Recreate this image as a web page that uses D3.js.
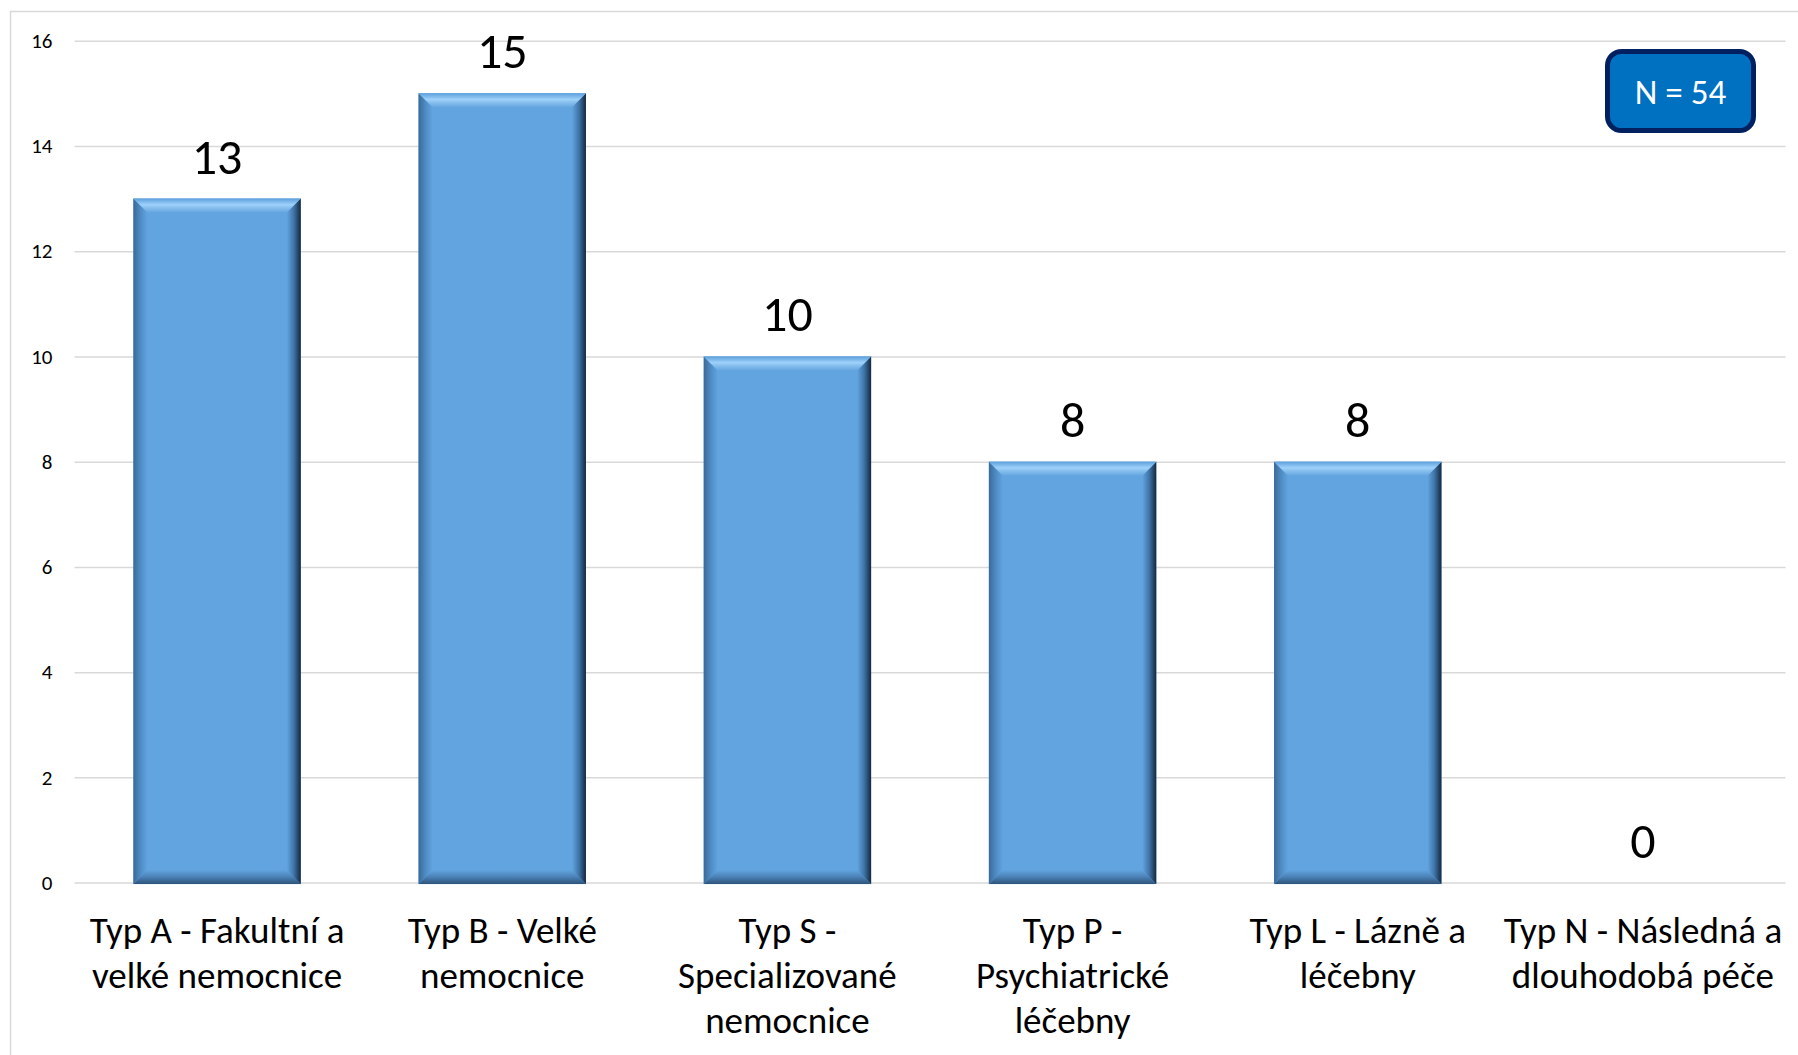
<!DOCTYPE html>
<html><head><meta charset="utf-8">
<script src="https://cdn.jsdelivr.net/npm/d3@7"></script>
<style>
html,body{margin:0;padding:0;background:#fff;}
svg{display:block;}
text{font-family:Carlito, Lato, "Open Sans", sans-serif;}
</style></head>
<body>
<svg id="chart" width="1798" height="1055"></svg>
<script>
const categories = ["Typ A", "Typ B", "Typ S", "Typ P", "Typ L", "Typ N"];
const categoryLabels = [
  ["Typ A - Fakultní a", "velké nemocnice"],
  ["Typ B - Velké", "nemocnice"],
  ["Typ S -", "Specializované", "nemocnice"],
  ["Typ P -", "Psychiatrické", "léčebny"],
  ["Typ L - Lázně a", "léčebny"],
  ["Typ N - Následná a", "dlouhodobá péče"]
];
const values = [13, 15, 10, 8, 8, 0];
const yTicks = [0, 2, 4, 6, 8, 10, 12, 14, 16];
const noteText = "N = 54";

const svg = d3.select("#chart");
const W = 1798, H = 1055;
const plot = {left: 74.5, right: 1785.5, top: 40.7, bottom: 882.6};

// outer frame
svg.append("rect").attr("x", 10.5).attr("y", 11.5).attr("width", W).attr("height", H)
  .attr("fill", "none").attr("stroke", "#d9d9d9").attr("stroke-width", 1.5);

const x = d3.scaleBand().domain(categories).range([plot.left, plot.right])
  .paddingInner(0.413).paddingOuter(0.2065);
const y = d3.scaleLinear().domain([0, 16]).range([plot.bottom, plot.top]);

// gridlines + y labels via axis
const yAxis = d3.axisLeft(y).tickValues(yTicks).tickSize(-(plot.right - plot.left)).tickPadding(22)
  .tickFormat(d3.format("d"));
const gy = svg.append("g").attr("transform", `translate(${plot.left},0)`).call(yAxis);
gy.select(".domain").remove();
gy.selectAll(".tick line").attr("stroke", "#d9d9d9").attr("stroke-width", 1.5);
gy.selectAll(".tick text").attr("fill", "#000").style("font-size", "21px")
  .style("font-family", "Carlito, Lato, sans-serif");

// gradients
const defs = svg.append("defs");
function lg(id, x1, y1, x2, y2, stops) {
  const g = defs.append("linearGradient").attr("id", id)
    .attr("x1", x1).attr("y1", y1).attr("x2", x2).attr("y2", y2);
  stops.forEach(s => g.append("stop").attr("offset", s[0]).attr("stop-color", s[1]));
}
lg("gTop", 0, 0, 0, 1, [[0, "#5d9fdc"], [0.45, "#9fd2fb"], [0.6, "#8cc3f0"], [1, "#65a6e0"]]);
lg("gRight", 0, 0, 1, 0, [[0, "#62a4df"], [0.5, "#3f74a8"], [1, "#15283e"]]);
lg("gLeft", 0, 0, 1, 0, [[0, "#3a6a98"], [0.5, "#4f8bc4"], [1, "#62a4df"]]);
lg("gBottom", 0, 0, 0, 1, [[0, "#62a4df"], [0.5, "#4a80b5"], [1, "#2d5378"]]);

const bev = 14;
const bars = svg.append("g").selectAll("g").data(values.map((v, i) => ({v, c: categories[i]})))
  .join("g").filter(d => d.v > 0);
bars.each(function(d) {
  const g = d3.select(this);
  const x0 = x(d.c), x1 = x(d.c) + x.bandwidth(), y0 = y(d.v), y1 = y(0) + 1.5;
  const b = bev;
  g.append("rect").attr("x", x0).attr("y", y0).attr("width", x1 - x0).attr("height", y1 - y0)
    .attr("fill", "#62a4df");
  const poly = (pts, fill) => g.append("polygon").attr("points", pts.map(p => p.join(",")).join(" ")).attr("fill", fill);
  poly([[x0, y1], [x1, y1], [x1 - b, y1 - b], [x0 + b, y1 - b]], "url(#gBottom)");
  poly([[x0, y0], [x0 + b, y0 + b], [x0 + b, y1 - b], [x0, y1]], "url(#gLeft)");
  poly([[x1, y0], [x1, y1], [x1 - b, y1 - b], [x1 - b, y0 + b]], "url(#gRight)");
  poly([[x0, y0], [x1, y0], [x1 - b, y0 + b], [x0 + b, y0 + b]], "url(#gTop)");
});

// value labels
svg.append("g").selectAll("text").data(values.map((v, i) => ({v, c: categories[i]})))
  .join("text")
  .attr("x", d => x(d.c) + x.bandwidth() / 2)
  .attr("y", d => y(d.v) - 25)
  .attr("text-anchor", "middle")
  .style("font-size", "50px").attr("fill", "#000")
  .text(d => d.v);

// category labels
const xl = svg.append("g").selectAll("text").data(categoryLabels.map((l, i) => ({l, c: categories[i]})))
  .join("text")
  .attr("x", d => x(d.c) + x.bandwidth() / 2)
  .attr("y", 943)
  .attr("text-anchor", "middle")
  .style("font-size", "37px").attr("fill", "#000");
xl.selectAll("tspan").data(d => d.l.map(t => ({t, x: x(d.c) + x.bandwidth() / 2})))
  .join("tspan")
  .attr("x", d => d.x)
  .attr("dy", (d, i) => i === 0 ? 0 : 45)
  .text(d => d.t);

// N box
const nb = svg.append("g");
nb.append("rect").attr("x", 1607.5).attr("y", 51.5).attr("width", 146).attr("height", 79)
  .attr("rx", 14).attr("fill", "#0070c0").attr("stroke", "#002060").attr("stroke-width", 5);
nb.append("text").attr("x", 1680.5).attr("y", 104).attr("text-anchor", "middle")
  .attr("fill", "#fff").style("font-size", "35px").text(noteText);
</script>
</body></html>
